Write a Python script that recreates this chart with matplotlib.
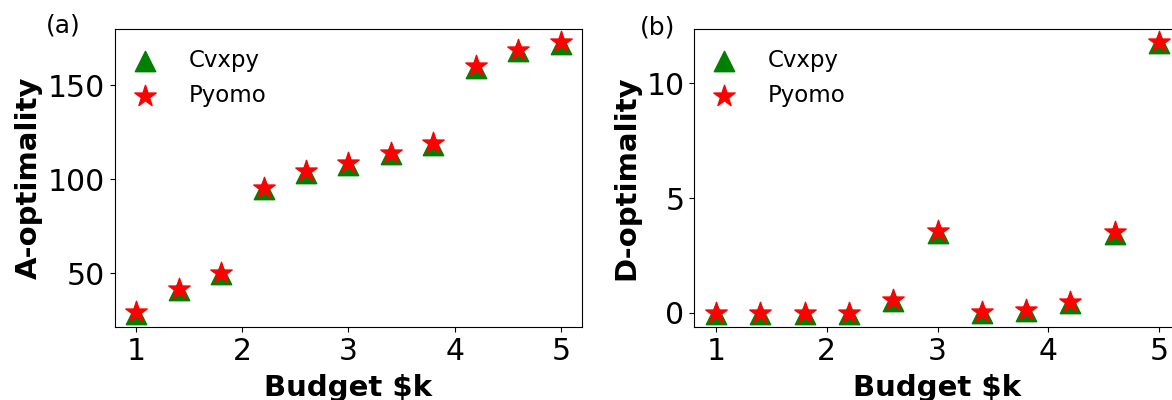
import matplotlib
matplotlib.use("Agg")
import matplotlib.pyplot as plt

# Datos
budget = [1.0, 1.4, 1.8, 2.2, 2.6, 3.0, 3.4, 3.8, 4.2, 4.6, 5.0]

a_cvxpy = [28.4, 40.8, 49.3, 94.6, 103.4, 107.8, 113.5, 118.4, 159.3, 168.2, 172.2]
a_pyomo = [29.2, 41.5, 50.0, 95.3, 104.1, 108.5, 114.2, 119.1, 160.0, 168.9, 172.9]

d_cvxpy = [-0.05, -0.05, -0.05, -0.05, 0.52, 3.49, -0.03, 0.08, 0.40, 3.45, 11.75]
d_pyomo = [0.0, 0.0, 0.0, 0.0, 0.57, 3.55, 0.02, 0.13, 0.45, 3.50, 11.80]

fig = plt.figure(figsize=(11.72, 4), dpi=100)
ax1 = fig.add_axes([0.0981, 0.1818, 0.3985, 0.7465])
ax2 = fig.add_axes([0.5922, 0.1818, 0.4155, 0.7465])

for ax, cv, py, ylab in [(ax1, a_cvxpy, a_pyomo, "A-optimality"),
                         (ax2, d_cvxpy, d_pyomo, "D-optimality")]:
    ax.scatter(budget, cv, marker="^", s=215, color="green", label="Cvxpy")
    ax.scatter(budget, py, marker="*", s=260, color="red", label="Pyomo")
    ax.set_xlabel("Budget $k", fontsize=21, fontweight="bold", labelpad=6)
    ax.set_ylabel(ylab, fontsize=21, fontweight="bold")
    ax.tick_params(labelsize=21.5)
    ax.set_xticks([1, 2, 3, 4, 5])
    ax.legend(loc="upper left", fontsize=16.5, frameon=False,
              handlelength=0.8, handletextpad=1.5)

ax2.set_yticks([0, 5, 10])

fig.text(63 / 1172, 1 - 26 / 400, "(a)", fontsize=18, ha="center", va="center")
fig.text(658 / 1172, 1 - 27 / 400, "(b)", fontsize=18, ha="center", va="center")

plt.savefig("out.png", dpi=100)
